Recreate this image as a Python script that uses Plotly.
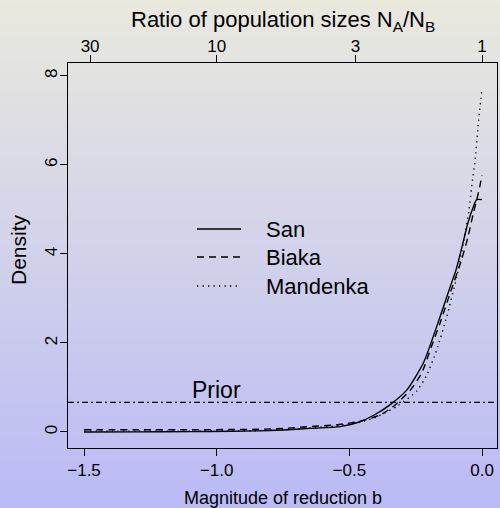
import numpy as np
import plotly.graph_objects as go

# ---------------- data ----------------
san_b = [-1.5, -1.3, -1.1, -0.95, -0.85, -0.75, -0.65, -0.535, -0.46, -0.41, -0.347,
         -0.284, -0.221, -0.158, -0.12, -0.098, -0.077, -0.053, -0.035, -0.02, 0.0]
san_density = [0.0, 0.003, 0.008, 0.015, 0.025, 0.045, 0.08, 0.12, 0.23, 0.37, 0.61,
               0.94, 1.55, 2.59, 3.26, 3.64, 4.12, 4.70, 5.02, 5.22, 5.22]

biaka_b = [-1.5, -1.3, -1.1, -0.95, -0.84, -0.75, -0.65, -0.55, -0.46, -0.385, -0.335,
           -0.27, -0.227, -0.19, -0.158, -0.12, -0.077, -0.053, -0.034, -0.011, 0.0]
biaka_density = [0.05, 0.05, 0.05, 0.055, 0.06, 0.08, 0.12, 0.16, 0.24, 0.38, 0.57,
                 0.94, 1.33, 1.93, 2.45, 3.12, 3.87, 4.38, 4.88, 5.44, 5.77]

mandenka_b = [-1.5, -1.3, -1.1, -0.95, -0.84, -0.75, -0.65, -0.55, -0.46, -0.4, -0.32,
              -0.246, -0.208, -0.171, -0.133, -0.095, -0.07, -0.049, -0.039, -0.026, -0.015, 0.0]
mandenka_density = [0.02, 0.02, 0.02, 0.025, 0.03, 0.05, 0.09, 0.14, 0.22, 0.33, 0.58,
                    0.92, 1.28, 1.84, 2.59, 3.49, 4.25, 4.99, 5.51, 6.11, 6.85, 7.73]

series_names = ["San", "Biaka", "Mandenka"]

prior_density = 1 / 1.5
prior_label = "Prior"
prior_label_pos = (-1.0, 0.95)

bottom_tick_vals = [-1.5, -1.0, -0.5, 0.0]
bottom_tick_text = ["\u22121.5", "\u22121.0", "\u22120.5", "0.0"]
ratio_ticks = [30, 10, 3, 1]
y_ticks = [0, 2, 4, 6, 8]

# ---------------- style ----------------
FONT = "Liberation Sans, Arial, Helvetica, sans-serif"
W, H = 500, 508
x_range = [-1.5605, 0.0565]
y_range = [-0.36, 8.29]
top_rgb = np.array([233, 233, 222])
bot_rgb = np.array([186, 186, 246])
dashes = ["solid", "7px,5px", "1.3px,4.2px"]
LW = 1.4

fig = go.Figure()

for name, xs, ys, dash in zip(series_names,
                              [san_b, biaka_b, mandenka_b],
                              [san_density, biaka_density, mandenka_density],
                              dashes):
    fig.add_trace(go.Scatter(x=xs, y=ys, mode="lines", name=name, showlegend=False,
                             line=dict(color="black", width=LW, dash=dash,
                                       shape="spline", smoothing=0.6)))

# carrier for the top (ratio) axis
top_vals = [-float(np.log10(r)) for r in ratio_ticks]
fig.add_trace(go.Scatter(x=top_vals, y=[None] * len(top_vals), xaxis="x2", yaxis="y",
                         mode="markers", showlegend=False, hoverinfo="skip"))

# gradient background
shapes = []
N = 127
for i in range(N):
    t = (i + 0.5) / N  # 0 bottom -> 1 top
    c = bot_rgb + (top_rgb - bot_rgb) * t
    shapes.append(dict(type="rect", xref="paper", yref="paper", x0=0, x1=1,
                       y0=i / N, y1=(i + 1) / N + 0.002, layer="below",
                       line=dict(width=0),
                       fillcolor="rgb(%d,%d,%d)" % tuple(np.round(c).astype(int))))
# prior (abline)
shapes.append(dict(type="line", xref="x domain", yref="y", x0=0, x1=1,
                   y0=prior_density, y1=prior_density,
                   line=dict(color="black", width=1.3, dash="6px,3px,2px,3px")))

# legend (keys + labels), placed like R's legend()
legend_rows_px = [229, 257, 286]
annotations = []
for name, dash, ypx in zip(series_names, dashes, legend_rows_px):
    yp = 1 - ypx / H
    shapes.append(dict(type="line", xref="paper", yref="paper", x0=197 / W, x1=241 / W,
                       y0=yp, y1=yp, line=dict(color="black", width=LW, dash=dash)))
    annotations.append(dict(text=name, xref="paper", yref="paper", x=264 / W, y=yp,
                            xanchor="left", yanchor="middle", showarrow=False,
                            font=dict(family=FONT, size=22, color="black")))

xdom = [68 / W, 497 / W]
ydom = [1 - 448 / H, 1 - 63 / H]

axis_common = dict(showgrid=False, zeroline=False, ticks="outside", ticklen=7,
                   tickwidth=1, tickcolor="black", automargin=False,
                   tickfont=dict(family=FONT, size=17, color="black"))

annotations += [
    dict(text="Magnitude of reduction b", xref="paper", yref="paper",
         x=283 / W, y=1 - 498 / H, xanchor="center", yanchor="middle",
         showarrow=False, font=dict(family=FONT, size=18)),
    dict(text="Density", xref="paper", yref="paper", textangle=-90,
         x=18 / W, y=1 - 250 / H, xanchor="center", yanchor="middle",
         showarrow=False, font=dict(family=FONT, size=21)),
    dict(text="Ratio of population sizes N<sub>A</sub>/N<sub>B</sub>", xref="paper", yref="paper",
         x=283 / W, y=1 - 21 / H, xanchor="center", yanchor="middle",
         showarrow=False, font=dict(family=FONT, size=22)),
    dict(text=prior_label, xref="x", yref="y", x=prior_label_pos[0], y=prior_label_pos[1],
         xanchor="center", yanchor="middle", showarrow=False,
         font=dict(family=FONT, size=23)),
]

fig.update_layout(
    width=W, height=H,
    margin=dict(l=0, r=0, t=0, b=0),
    paper_bgcolor="rgb(210,210,234)",
    plot_bgcolor="rgba(0,0,0,0)",
    font=dict(family=FONT, color="black"),
    shapes=shapes,
    xaxis=dict(domain=xdom, range=x_range, tickvals=bottom_tick_vals, ticktext=bottom_tick_text,
               showline=True, linecolor="black", linewidth=1, mirror=True, **axis_common),
    xaxis2=dict(domain=xdom, range=x_range, overlaying="x", side="top", anchor="y",
                tickvals=top_vals, ticktext=[str(r) for r in ratio_ticks],
                showline=False, ticklabelstandoff=-4, **axis_common),
    yaxis=dict(domain=ydom, range=y_range, tickvals=y_ticks, tickangle=-90,
               showline=True, linecolor="black", linewidth=1, mirror=True,
               ticklabelstandoff=-4, **axis_common),
    showlegend=False,
    annotations=annotations,
)

fig.write_html("out.html", config={"displayModeBar": False},
               post_script="document.body.style.margin='0';document.body.style.overflow='hidden';")
